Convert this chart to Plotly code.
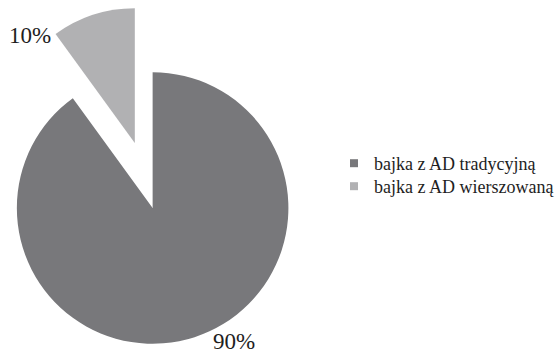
import plotly.graph_objects as go

labels = ["bajka z AD tradycyjną", "bajka z AD wierszowaną"]
values = [90, 10]
colors = ["#78787b", "#b1b1b3"]
clear = "rgba(0,0,0,0)"

W, H = 560, 356
FONT = "Liberation Serif, Times New Roman, serif"
TXT = "#1e1e1e"


def px_x(v):
    return v / W


def px_y(v):
    return 1 - v / H


fig = go.Figure()

# main (not pulled) slice
fig.add_trace(go.Pie(
    labels=labels, values=values, sort=False, direction="clockwise", rotation=0,
    marker=dict(colors=[colors[0], clear], line=dict(width=0)),
    textinfo="none", hoverinfo="skip", showlegend=False,
    domain=dict(x=[px_x(17), px_x(291)], y=[px_y(345), px_y(71)]),
))

# exploded slice, drawn as its own pie displaced along the slice bisector
fig.add_trace(go.Pie(
    labels=labels, values=values, sort=False, direction="clockwise", rotation=0,
    marker=dict(colors=[clear, colors[1]], line=dict(width=0)),
    textinfo="none", hoverinfo="skip", showlegend=False,
    domain=dict(x=[0, px_x(272)], y=[px_y(279), px_y(7)]),
))

# legend entries (one legend per entry to control row spacing)
legend_ids = ["legend", "legend2"]
legend_rows = [163.5, 186.5]
for lab, col, lid in zip(labels, colors, legend_ids):
    fig.add_trace(go.Scatter(
        x=[None], y=[None], mode="markers", name=lab, legend=lid,
        marker=dict(symbol="square", size=8, color=col, line=dict(width=0)),
        hoverinfo="skip",
    ))

fig.add_annotation(text=f"{values[1]}%", x=px_x(30), y=px_y(35.5), xref="paper", yref="paper",
                   xanchor="center", yanchor="middle",
                   showarrow=False, font=dict(family=FONT, size=23, color=TXT))
fig.add_annotation(text=f"{values[0]}%", x=px_x(236), y=0, xref="paper", yref="paper",
                   xanchor="center", yanchor="bottom",
                   showarrow=False, font=dict(family=FONT, size=23, color=TXT))

leg_common = dict(xanchor="left", yanchor="middle",
                  font=dict(family=FONT, size=18, color=TXT),
                  bgcolor="rgba(0,0,0,0)")
fig.update_layout(
    width=W, height=H, autosize=False,
    margin=dict(l=0, r=0, t=0, b=0),
    paper_bgcolor="white", plot_bgcolor="white",
    xaxis=dict(visible=False), yaxis=dict(visible=False),
    legend=dict(x=px_x(337), y=px_y(legend_rows[0]), **leg_common),
    legend2=dict(x=px_x(337), y=px_y(legend_rows[1]), **leg_common),
    showlegend=True,
)

fig.write_html("out.html")
